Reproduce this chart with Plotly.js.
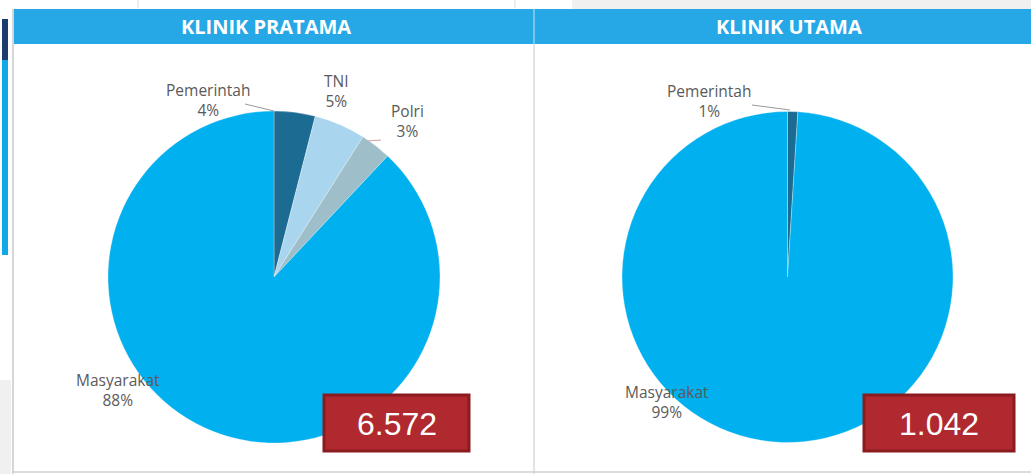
<!DOCTYPE html>
<html>
<head>
<meta charset="utf-8">
<script src="https://cdn.plot.ly/plotly-3.0.1.min.js"></script>
<style>html,body{margin:0;padding:0;background:#fff;}#chart{width:1031px;height:474px;}</style>
</head>
<body>
<div id="chart"></div>
<script>
// ---- data ----
const panelTitles = ["KLINIK PRATAMA", "KLINIK UTAMA"];
const pratamaLabels = ["Pemerintah", "TNI", "Polri", "Masyarakat"];
const pratamaValues = [4, 5, 3, 88];
const utamaLabels = ["Pemerintah", "Masyarakat"];
const utamaValues = [1, 99];
const totals = ["6.572", "1.042"];

const W = 1031, H = 474;
const px = x => x / W;
const py = y => 1 - y / H;

const colors = {
  "Pemerintah": "#1c6b93",
  "TNI": "#a9d6ee",
  "Polri": "#9ebfc9",
  "Masyarakat": "#00b0ef"
};

function pie(labels, values, x0, x1) {
  return {
    type: "pie",
    labels: labels,
    values: values,
    sort: false,
    direction: "clockwise",
    rotation: 0,
    textinfo: "none",
    hoverinfo: "label+percent",
    marker: { colors: labels.map(l => colors[l]), line: { color: "#ffffff", width: 0.3 } },
    domain: { x: [px(x0), px(x1)], y: [py(443), py(111)] },
    showlegend: false
  };
}

const data = [
  pie(pratamaLabels, pratamaValues, 108, 440),
  pie(utamaLabels, utamaValues, 622, 953)
];

const labelFont = { family: "Open Sans, sans-serif", size: 15.5, color: "#5a5a5a" };
function lab(label, value, x, y) {
  return { xref: "paper", yref: "paper", x: px(x), y: py(y), xanchor: "center", yanchor: "middle",
    text: label + "<br>" + value + "%", showarrow: false, font: labelFont, align: "center" };
}

const pratamaPos = [[208, 100], [336, 91], [407, 121], [118, 390]];
const utamaPos = [[709, 101], [667, 402]];

const annotations = [];
pratamaLabels.forEach((l, i) => annotations.push(lab(l, pratamaValues[i], pratamaPos[i][0], pratamaPos[i][1])));
utamaLabels.forEach((l, i) => annotations.push(lab(l, utamaValues[i], utamaPos[i][0], utamaPos[i][1])));

// headers
annotations.push({ xref: "paper", yref: "paper", x: px(266), y: py(26), xanchor: "center", yanchor: "middle",
  text: "<b>" + panelTitles[0] + "</b>", showarrow: false, font: { family: "Open Sans, sans-serif", size: 20, color: "#ffffff" } });
annotations.push({ xref: "paper", yref: "paper", x: px(789), y: py(26), xanchor: "center", yanchor: "middle",
  text: "<b>" + panelTitles[1] + "</b>", showarrow: false, font: { family: "Open Sans, sans-serif", size: 20, color: "#ffffff" } });

// totals
annotations.push({ xref: "paper", yref: "paper", x: px(396.5), y: py(424), xanchor: "center", yanchor: "middle",
  text: totals[0], showarrow: false, font: { family: "Liberation Sans, Arial, sans-serif", size: 32, color: "#ffffff" } });
annotations.push({ xref: "paper", yref: "paper", x: px(939), y: py(424), xanchor: "center", yanchor: "middle",
  text: totals[1], showarrow: false, font: { family: "Liberation Sans, Arial, sans-serif", size: 32, color: "#ffffff" } });

function rect(x0, y0, x1, y1, fill, line, lw) {
  return { type: "rect", xref: "paper", yref: "paper", x0: px(x0), x1: px(x1), y0: py(y1), y1: py(y0),
    fillcolor: fill, line: { color: line || fill, width: lw || 0 }, layer: "below" };
}
function seg(x0, y0, x1, y1, color, w, layer) {
  return { type: "line", xref: "paper", yref: "paper", x0: px(x0), x1: px(x1), y0: py(y0), y1: py(y1),
    line: { color: color, width: w || 1 }, layer: layer || "above" };
}

const shapes = [
  // page backgrounds
  rect(572, 0, 1031, 9, "#f0f0f0"),
  rect(0, 380, 11, 474, "#f0f0f0"),
  seg(138, 0, 138, 8, "#dddddd", 1, "below"),
  seg(515, 0, 515, 8, "#dddddd", 1, "below"),
  // left sidebar fragment
  rect(2, 19, 8, 60, "#1f3c6e"),
  rect(2, 60, 8, 255, "#10a8e8"),
  // panel borders
  seg(13, 9, 13, 474, "#c8c8c8", 1.5, "below"),
  seg(534, 9, 534, 474, "#c8c8c8", 1, "below"),
  seg(13, 472, 1031, 472, "#d0d0d0", 1.5, "below"),
  // headers
  rect(14, 9, 1031, 44, "#27a8e6"),
  seg(534, 9, 534, 44, "#8fd3f3", 1.5, "below"),
  // leader lines
  seg(245, 104, 274, 111, "#9a9a9a", 1),
  seg(367, 141, 381, 140, "#d0a0a0", 1),
  seg(752, 105, 790, 110, "#9a9a9a", 1),
  // total boxes
  { type: "rect", xref: "paper", yref: "paper", x0: px(324), x1: px(469), y0: py(451), y1: py(395),
    fillcolor: "#b0292f", line: { color: "#8a1b1f", width: 3 }, layer: "above" },
  { type: "rect", xref: "paper", yref: "paper", x0: px(864), x1: px(1014), y0: py(451), y1: py(395),
    fillcolor: "#b0292f", line: { color: "#8a1b1f", width: 3 }, layer: "above" }
];

const layout = {
  width: W, height: H,
  margin: { l: 0, r: 0, t: 0, b: 0 },
  paper_bgcolor: "#ffffff",
  plot_bgcolor: "#ffffff",
  showlegend: false,
  shapes: shapes,
  annotations: annotations
};

Plotly.newPlot("chart", data, layout, { displayModeBar: false, staticPlot: true });
</script>
</body>
</html>
